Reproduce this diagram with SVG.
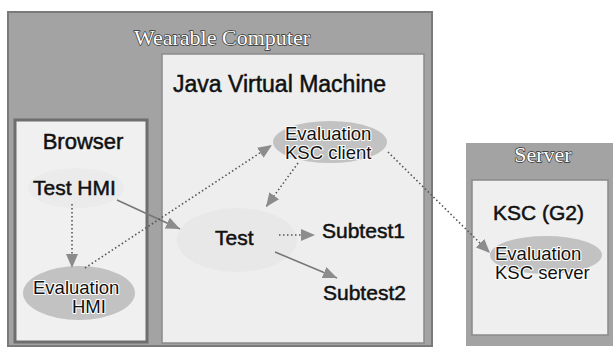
<svg xmlns="http://www.w3.org/2000/svg" width="614" height="347" viewBox="0 0 614 347">
<defs>
<marker id="ah" viewBox="0 0 14 12" refX="14" refY="6" markerWidth="14" markerHeight="12" markerUnits="userSpaceOnUse" orient="auto"><path d="M0,0 L14,6 L0,12 Z" fill="#8c8c8c"/></marker>
</defs>
<style>
.sans{font-family:"Liberation Sans",Arial,sans-serif;fill:#111}
.bold{stroke:#111;stroke-width:0.5}
.title{font-family:"Liberation Serif","Times New Roman",serif;fill:#fff;stroke:#333;stroke-width:1.4;paint-order:stroke;stroke-linejoin:round}
.halo{stroke:#fff;stroke-width:2.2;paint-order:stroke;stroke-linejoin:round}
.dot{fill:none;stroke:#555;stroke-width:1.6;stroke-dasharray:1.5 2.5}
.solid{fill:none;stroke:#777;stroke-width:1.6}
.ell{fill:#c2c2c2}
</style>
<rect width="614" height="347" fill="#fff"/>
<g id="wearable">
<rect x="8" y="12" width="424" height="334" fill="#a3a3a3" stroke="#7a7a7a" stroke-width="2"/>
<text class="title" x="222" y="45" font-size="22" text-anchor="middle">Wearable Computer</text>
</g>
<g id="jvm">
<rect x="162" y="54" width="262" height="289" fill="#eeeeee" stroke="#8a8a8a" stroke-width="1.5"/>
<text class="sans bold" x="173" y="92" font-size="23">Java Virtual Machine</text>
</g>
<g id="browser">
<rect x="15" y="120" width="132" height="222" fill="#f0f0f0" stroke="#6e6e6e" stroke-width="3"/>
<text class="sans bold" x="83" y="149" font-size="22" text-anchor="middle">Browser</text>
</g>
<g id="server">
<rect x="466" y="143" width="147" height="203" fill="#a3a3a3"/>
<rect x="472" y="180" width="136" height="155" fill="#efefef" stroke="#8a8a8a" stroke-width="1.5"/>
<text class="title" x="543" y="162" font-size="22" text-anchor="middle">Server</text>
<text class="sans bold" x="493" y="220" font-size="21">KSC (G2)</text>
</g>
<g id="test-hmi">
<ellipse cx="76" cy="188" rx="48" ry="20" fill="#ebebeb"/>
<text class="sans bold" x="33" y="195" font-size="21">Test HMI</text>
</g>
<g id="eval-hmi">
<ellipse class="ell" cx="79" cy="293" rx="56" ry="27"/>
<text class="sans halo" x="33" y="294" font-size="18.5">Evaluation</text>
<text class="sans halo" x="72" y="313" font-size="18.5">HMI</text>
</g>
<g id="eval-client">
<ellipse class="ell" cx="330" cy="142" rx="57" ry="21"/>
<text class="sans halo" x="285" y="140" font-size="18.5">Evaluation</text>
<text class="sans halo" x="285" y="159" font-size="18.5">KSC client</text>
</g>
<g id="test">
<ellipse cx="237" cy="240" rx="60" ry="32" fill="#e8e8e8"/>
<text class="sans bold" x="215" y="245" font-size="21">Test</text>
</g>
<g id="subtest1">
<text class="sans bold" x="322" y="238" font-size="21">Subtest1</text>
</g>
<g id="subtest2">
<text class="sans bold" x="323" y="300" font-size="21">Subtest2</text>
</g>
<g id="eval-server">
<ellipse class="ell" cx="546" cy="255" rx="56" ry="19"/>
<text class="sans halo" x="495" y="260" font-size="18.5">Evaluation</text>
<text class="sans halo" x="495" y="279" font-size="18.5">KSC server</text>
</g>
<g id="connectors">
<path class="solid" d="M117,200 L180,229" marker-end="url(#ah)"/>
<path class="dot" d="M72,204 L72,268" marker-end="url(#ah)"/>
<path class="dot" d="M85,268 L272,145" marker-end="url(#ah)"/>
<path class="dot" d="M298,163 L266,207" marker-end="url(#ah)"/>
<path class="dot" d="M279,235 L315,235" stroke-dasharray="2 1" marker-end="url(#ah)"/>
<path class="solid" d="M275,252 L337,278" marker-end="url(#ah)"/>
<path class="dot" d="M388,152 L490,253" marker-end="url(#ah)"/>
</g>
</svg>
